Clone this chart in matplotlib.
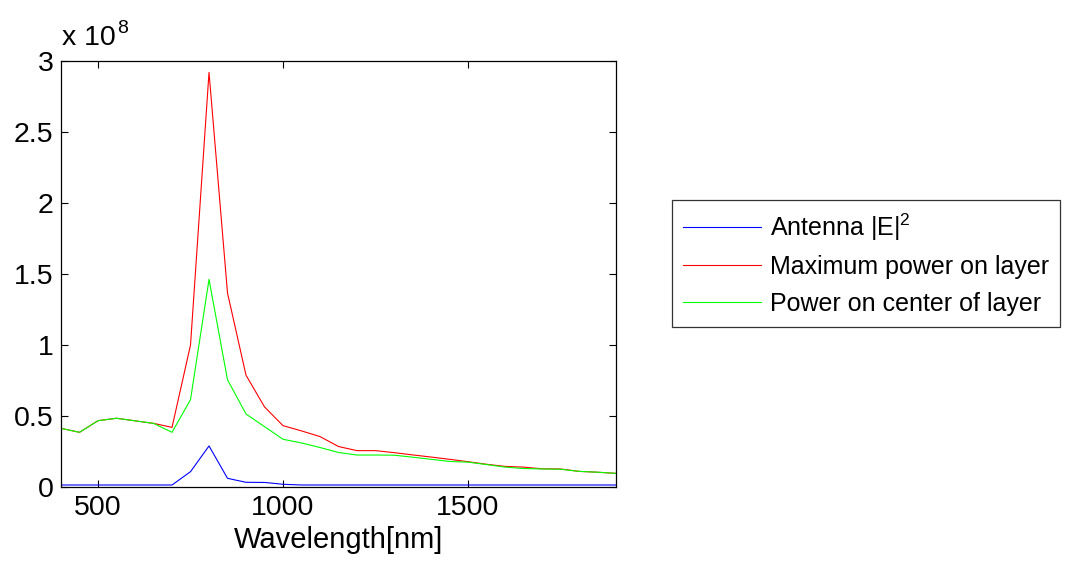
import matplotlib
matplotlib.use("Agg")
import matplotlib.pyplot as plt
from matplotlib.ticker import FuncFormatter

plt.rcParams["font.family"] = ["Liberation Sans", "DejaVu Sans"]
plt.rcParams["mathtext.fontset"] = "custom"
plt.rcParams["mathtext.rm"] = "Liberation Sans"
plt.rcParams["mathtext.it"] = "Liberation Sans:italic"

# wavelength in nm, values in units of 1e8
wavelength = [400, 450, 500, 550, 600, 650, 700, 750, 800, 850, 900, 950,
              1000, 1050, 1100, 1150, 1200, 1250, 1300, 1350, 1400, 1450,
              1500, 1550, 1600, 1650, 1700, 1750, 1800, 1850, 1900]
antenna_e2 = [0.014, 0.014, 0.014, 0.014, 0.014, 0.014, 0.014, 0.108, 0.289,
              0.061, 0.033, 0.032, 0.019, 0.014, 0.014, 0.014, 0.014, 0.014,
              0.014, 0.014, 0.014, 0.014, 0.014, 0.014, 0.014, 0.014, 0.014,
              0.014, 0.014, 0.014, 0.014]
max_power = [0.413, 0.385, 0.467, 0.484, 0.466, 0.448, 0.420, 1.000, 2.920,
             1.366, 0.787, 0.564, 0.432, 0.395, 0.355, 0.285, 0.256, 0.256,
             0.242, 0.226, 0.211, 0.195, 0.178, 0.160, 0.145, 0.140, 0.128,
             0.127, 0.110, 0.104, 0.096]
center_power = [0.413, 0.385, 0.467, 0.484, 0.466, 0.448, 0.385, 0.615,
                1.462, 0.755, 0.514, 0.425, 0.336, 0.310, 0.278, 0.243,
                0.225, 0.225, 0.224, 0.210, 0.195, 0.180, 0.175, 0.158,
                0.140, 0.130, 0.127, 0.125, 0.110, 0.104, 0.096]
labels = ["Antenna |E|$^2$", "Maximum power on layer",
          "Power on center of layer"]

fig = plt.figure(figsize=(10.65, 5.66), dpi=100)
ax = fig.add_axes([0.0573, 0.1396, 0.5211, 0.7526])

ax.plot(wavelength, antenna_e2, color=(0, 0, 1), lw=0.8, label=labels[0])
ax.plot(wavelength, max_power, color=(1, 0, 0), lw=0.8, label=labels[1])
ax.plot(wavelength, center_power, color=(0, 1, 0), lw=0.8, label=labels[2])

ax.set_xlim(400, 1900)
ax.set_ylim(0, 3)
ax.set_xticks([500, 1000, 1500])
ax.set_yticks([0, 0.5, 1, 1.5, 2, 2.5, 3])
ax.yaxis.set_major_formatter(FuncFormatter(lambda v, p: f"{v:g}"))
ax.tick_params(direction="in", top=True, right=True, length=5,
               width=0.8, labelsize=20.5, pad=5.5)
for s in ax.spines.values():
    s.set_linewidth(0.9)

ax.set_xlabel("Wavelength[nm]", fontsize=21, labelpad=4)

fig.text(62 / 1065, 1 - 45 / 566, "x 10", fontsize=20.5,
         ha="left", va="baseline")
fig.text(117 / 1065, 1 - 33 / 566, "8", fontsize=14,
         ha="left", va="baseline")

leg = ax.legend(loc="upper left", bbox_to_anchor=(672 / 1065, 1 - 200 / 566),
                bbox_transform=fig.transFigure, fontsize=18, frameon=True,
                fancybox=False, handlelength=3.1, handletextpad=0.35,
                labelspacing=0.5, borderpad=0.45, borderaxespad=0)
leg.get_frame().set_edgecolor("black")
leg.get_frame().set_linewidth(0.9)

plt.savefig("out.png", dpi=100)
plt.close()
